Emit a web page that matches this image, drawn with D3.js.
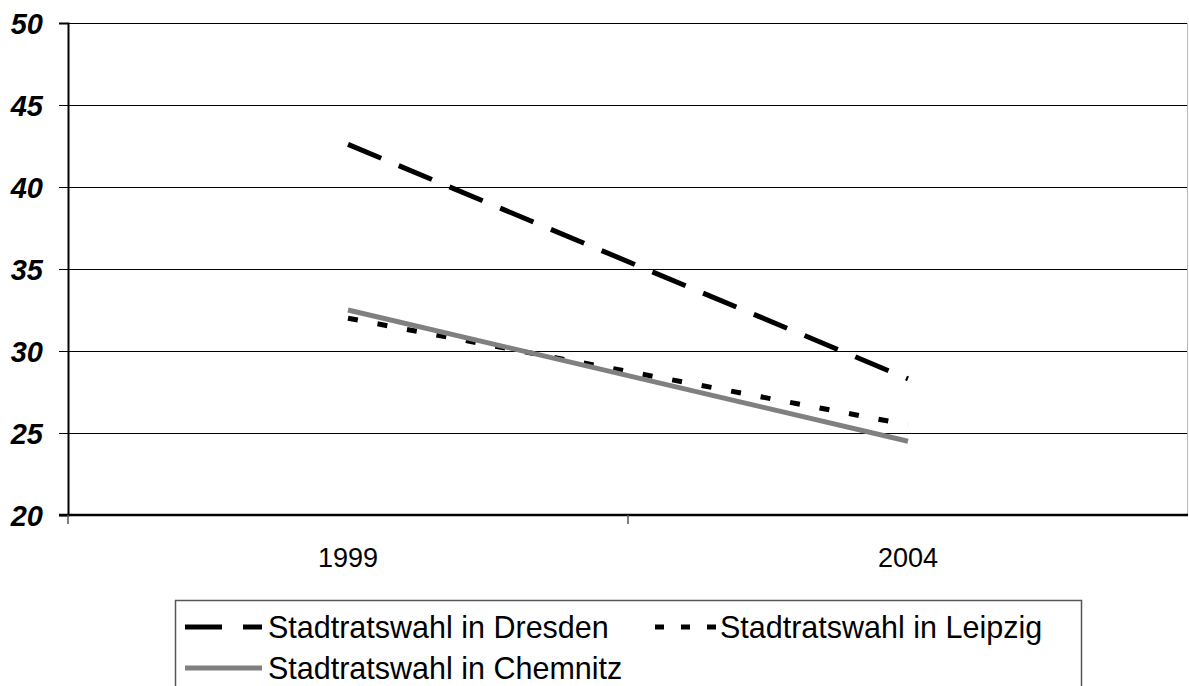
<!DOCTYPE html>
<html>
<head>
<meta charset="utf-8">
<script src="https://cdn.jsdelivr.net/npm/d3@7"></script>
<style>
  body { margin: 0; background: #fff; }
  svg { display: block; font-family: Arial, "Liberation Sans", sans-serif; }
</style>
</head>
<body>
<div id="chart"></div>
<script>
// data
const years = ["1999", "2004"];
const dresden = [42.6, 28.3];
const leipzig = [32.0, 25.5];
const chemnitz = [32.5, 24.5];
const yTicks = [20, 25, 30, 35, 40, 45, 50];

const series = [
    { name: "Stadtratswahl in Dresden", values: dresden, color: "#000", dash: "36,19", legendDash: "37,21" },
    { name: "Stadtratswahl in Leipzig", values: leipzig, color: "#000", dash: "10,20", legendDash: "9,17" },
    { name: "Stadtratswahl in Chemnitz", values: chemnitz, color: "#808080", dash: null, legendDash: null }
];

const width = 1189, height = 686;
const plot = { left: 68, right: 1188, top: 23, bottom: 515 };

const svg = d3.select("#chart").append("svg")
    .attr("width", width)
    .attr("height", height);

const x = d3.scaleBand()
    .domain(years)
    .range([plot.left, plot.right])
    .padding(0);

const y = d3.scaleLinear()
    .domain([20, 50])
    .range([plot.bottom, plot.top]);

// gridlines
svg.append("g")
    .selectAll("line")
    .data(yTicks.filter(d => d > 20))
    .join("line")
    .attr("x1", plot.left).attr("x2", plot.right)
    .attr("y1", d => Math.round(y(d)) + 0.5).attr("y2", d => Math.round(y(d)) + 0.5)
    .attr("stroke", "#000")
    .attr("stroke-width", 1.2);

// right border of plot area
svg.append("line")
    .attr("x1", plot.right - 0.5).attr("x2", plot.right - 0.5)
    .attr("y1", plot.top).attr("y2", plot.bottom)
    .attr("stroke", "#bbb");

// y axis
const yAxis = svg.append("g")
    .attr("transform", `translate(${plot.left},0)`)
    .call(d3.axisLeft(y).tickValues(yTicks).tickSize(9).tickPadding(16));
yAxis.select(".domain").attr("stroke", "#000").attr("stroke-width", 2);
yAxis.selectAll(".tick line").attr("stroke", "#000").attr("shape-rendering", "crispEdges");
yAxis.selectAll("text")
    .attr("font-size", 29)
    .attr("font-weight", "bold")
    .attr("font-style", "italic")
    .attr("fill", "#000")
    .attr("dy", "0.36em");

// x axis: ticks between the categories
const xAxis = svg.append("g")
    .attr("transform", `translate(0,${plot.bottom})`);
xAxis.append("line")
    .attr("x1", plot.left - 9).attr("x2", plot.right)
    .attr("stroke", "#000").attr("stroke-width", 2.5);
xAxis.selectAll(".xtick")
    .data(years)
    .join("line")
    .attr("class", "xtick")
    .attr("x1", d => x(d)).attr("x2", d => x(d))
    .attr("y1", 0).attr("y2", 9)
    .attr("stroke", "#555").attr("stroke-width", 1.5);
xAxis.selectAll(".xlabel")
    .data(years)
    .join("text")
    .attr("class", "xlabel")
    .attr("x", d => x(d) + x.bandwidth() / 2)
    .attr("y", 52)
    .attr("text-anchor", "middle")
    .attr("font-size", 27)
    .text(d => d);

// lines
const line = d3.line()
    .x((d, i) => x(years[i]) + x.bandwidth() / 2)
    .y(d => y(d));

svg.append("g")
    .selectAll("path")
    .data(series)
    .join("path")
    .attr("d", d => line(d.values))
    .attr("fill", "none")
    .attr("stroke", d => d.color)
    .attr("stroke-width", 5)
    .attr("stroke-dasharray", d => d.dash);

// legend
const legend = svg.append("g");
legend.append("rect")
    .attr("x", 175.5).attr("y", 600.5)
    .attr("width", 906).attr("height", 120)
    .attr("fill", "none")
    .attr("stroke", "#555")
    .attr("stroke-width", 1.5);

const legendPos = [
    { x1: 185, x2: 262, tx: 268, y: 627 },
    { x1: 655, x2: 716, tx: 720, y: 627 },
    { x1: 185, x2: 262, tx: 268, y: 668 }
];

series.forEach((s, i) => {
    const p = legendPos[i];
    legend.append("line")
        .attr("x1", p.x1).attr("x2", p.x2)
        .attr("y1", p.y).attr("y2", p.y)
        .attr("stroke", s.color)
        .attr("stroke-width", 5)
        .attr("stroke-dasharray", s.legendDash);
    legend.append("text")
        .attr("x", p.tx).attr("y", p.y)
        .attr("dy", "0.36em")
        .attr("font-size", 30.5)
        .text(s.name);
});
</script>
</body>
</html>
